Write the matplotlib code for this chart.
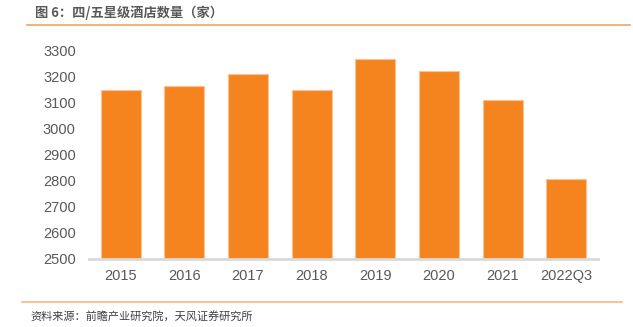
import matplotlib
matplotlib.use("Agg")
import matplotlib.pyplot as plt
from matplotlib.lines import Line2D

plt.rcParams['font.family'] = ['Liberation Sans', 'Noto Sans CJK SC', 'DejaVu Sans']

years = ["2015", "2016", "2017", "2018", "2019", "2020", "2021", "2022Q3"]
hotels = [3148, 3163, 3208, 3147, 3265, 3219, 3110, 2806]
yticks = [2500, 2600, 2700, 2800, 2900, 3000, 3100, 3200, 3300]

title = "图 6：四/五星级酒店数量（家）"
source = "资料来源：前瞻产业研究院，天风证券研究所"

TEXT = "#595959"
ORANGE = "#F5841F"

fig = plt.figure(figsize=(6.33, 3.27), dpi=100)
ax = fig.add_axes([0.1406, 0.208, 0.8041, 0.639])

x = range(len(years))
ax.bar(x, hotels, width=0.63, color=ORANGE, edgecolor="#FAC395", linewidth=0.8)
ax.set_xlim(-0.5, len(years) - 0.5)
ax.set_ylim(2500, 3300)
ax.set_yticks(yticks)
ax.set_xticks(list(x))
ax.set_xticklabels(years)

for side in ("top", "right", "left"):
    ax.spines[side].set_visible(False)
ax.spines["bottom"].set_color("#D9D9D9")
ax.spines["bottom"].set_linewidth(2)
ax.tick_params(axis="both", length=0, labelsize=10.5, labelcolor=TEXT)
ax.tick_params(axis="y", pad=9.5)
ax.tick_params(axis="x", pad=7.5)

# header and footer
fig.text(35 / 633, 1 - 13 / 327, title, fontsize=9.5, fontweight="bold",
         color=TEXT, va="center", ha="left",
         family=['Noto Sans CJK SC', 'DejaVu Sans'])
fig.add_artist(Line2D([27 / 633, 630 / 633], [1 - 25 / 327, 1 - 25 / 327],
                      color="#F4A460", linewidth=1.2, transform=fig.transFigure))
fig.add_artist(Line2D([22 / 633, 622 / 633], [1 - 302 / 327, 1 - 302 / 327],
                      color="#F9B77F", linewidth=1.2, transform=fig.transFigure))
fig.text(30 / 633, 1 - 316 / 327, source, fontsize=8, color="#404040",
         va="center", ha="left", family=['Noto Sans CJK SC', 'DejaVu Sans'])

fig.savefig("out.png", dpi=100)
